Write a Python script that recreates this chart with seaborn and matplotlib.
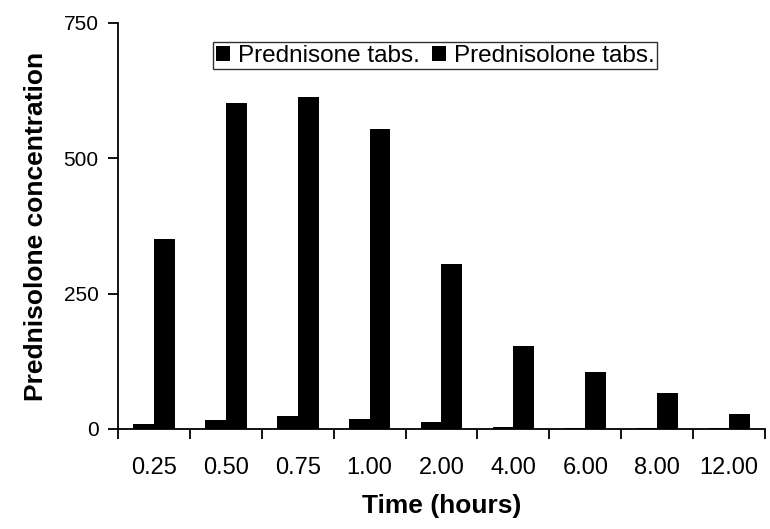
import numpy as np
import pandas as pd
import matplotlib
matplotlib.use("Agg")
import matplotlib.pyplot as plt
import seaborn as sns

# Data
times = ["0.25", "0.50", "0.75", "1.00", "2.00", "4.00", "6.00", "8.00", "12.00"]
prednisone_tabs = [10, 17, 24, 18, 13, 3, 2, 1, 1]
prednisolone_tabs = [351, 602, 613, 554, 304, 154, 105, 66, 27]
series = ["Prednisone tabs.", "Prednisolone tabs."]

df = pd.DataFrame({
    "time": times * 2,
    "conc": prednisone_tabs + prednisolone_tabs,
    "series": [series[0]] * len(times) + [series[1]] * len(times),
})

sns.set_style("white")
plt.rcParams["font.family"] = ["Liberation Sans", "DejaVu Sans"]
plt.rcParams.update({
    "text.color": "black",
    "axes.labelcolor": "black",
    "xtick.color": "black",
    "ytick.color": "black",
})

fig = plt.figure(figsize=(7.7, 5.29), dpi=100)
ax = fig.add_axes([118 / 770, 1 - 429 / 529, 647 / 770, 406 / 529])

sns.barplot(
    data=df, x="time", y="conc", hue="series",
    palette=["black", "black"], width=0.58, ax=ax,
    saturation=1, edgecolor="black", linewidth=0,
)

ax.set_xlim(-0.5, len(times) - 0.5)
ax.set_ylim(0, 750)
ax.set_yticks([0, 250, 500, 750])
ax.tick_params(axis="y", labelsize=15, length=7, width=1.3, direction="out",
               left=True, colors="black", pad=7)
ax.tick_params(axis="x", which="major", labelsize=17, length=0, pad=20,
               colors="black")
ax.set_xticks(np.arange(-0.5, len(times), 1), minor=True)
ax.tick_params(axis="x", which="minor", length=7, width=1.3, direction="out",
               bottom=True, colors="black")

for s in ["top", "right"]:
    ax.spines[s].set_visible(False)
for s in ["left", "bottom"]:
    ax.spines[s].set_color("black")
    ax.spines[s].set_linewidth(1.3)

ax.set_xlabel("Time (hours)", fontsize=19, fontweight="bold", labelpad=11)
ax.set_ylabel("Prednisolone concentration", fontsize=19, fontweight="bold",
              labelpad=11)

leg = ax.legend(
    loc="upper center", bbox_to_anchor=(0.49, 0.952), ncol=2,
    frameon=True, fontsize=17.5, handlelength=0.6, handleheight=0.6,
    handletextpad=0.3, columnspacing=0.5, borderpad=0.1, fancybox=False,
    borderaxespad=0,
)
leg.get_frame().set_edgecolor("black")
leg.get_frame().set_linewidth(1.0)
for t in leg.get_texts():
    t.set_color("black")

fig.savefig("out.png", dpi=100)
